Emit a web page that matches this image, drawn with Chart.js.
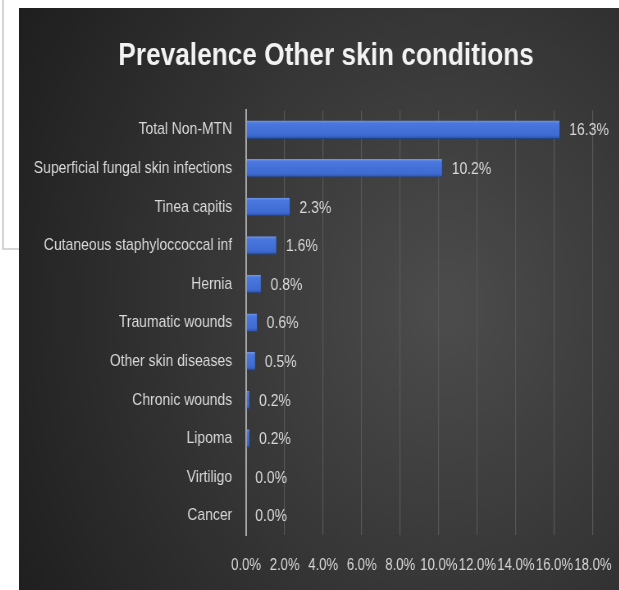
<!DOCTYPE html>
<html>
<head>
<meta charset="utf-8">
<script src="https://cdn.jsdelivr.net/npm/chart.js@4.4.0/dist/chart.umd.min.js"></script>
<style>
  html, body { margin: 0; padding: 0; background: #ffffff; }
  body { width: 619px; height: 590px; position: relative; overflow: hidden; }
  .side-box {
    position: absolute; left: 2px; top: 0; width: 30px; height: 250px;
    border-left: 2px solid #d6d6d6; border-bottom: 2px solid #d6d6d6; box-sizing: border-box;
  }
  .panel { position: absolute; left: 19px; top: 8px; width: 600px; height: 582px; overflow: hidden; }
  /* text in this chart is a narrow face, so the whole canvas is squeezed horizontally */
  .squeeze { width: 749px; height: 582px; transform: scaleX(0.82); transform-origin: 0 0; }
</style>
</head>
<body>
<div class="side-box"></div>
<div class="panel"><div class="squeeze"><canvas id="skinChart" width="749" height="582"></canvas></div></div>
<script>
// Categories, top to bottom
const conditions = [
    'Total Non-MTN',
    'Superficial fungal skin infections',
    'Tinea capitis',
    'Cutaneous staphyloccoccal inf',
    'Hernia',
    'Traumatic wounds',
    'Other skin diseases',
    'Chronic wounds',
    'Lipoma',
    'Virtiligo',
    'Cancer'
];

// Prevalence in percent
const prevalence = [16.3, 10.2, 2.3, 1.6, 0.8, 0.6, 0.5, 0.2, 0.2, 0.0, 0.0];

// X axis ticks (percent)
const xTicks = [0, 2, 4, 6, 8, 10, 12, 14, 16, 18];

const labelFont = "'Liberation Sans', Arial, sans-serif";
const textColor = '#d9d9d9';
const barFraction = 0.48;

// Dark radial backdrop behind everything
const backdrop = {
    id: 'backdrop',
    beforeDraw(chart) {
        const { ctx, width, height } = chart;
        const g = ctx.createRadialGradient(520, 300, 20, 520, 300, 620);
        g.addColorStop(0, '#4b4b4b');
        g.addColorStop(1, '#1d1d1d');
        ctx.save();
        ctx.fillStyle = g;
        ctx.fillRect(0, 0, width, height);
        ctx.restore();
    }
};

// Value labels to the right of each bar
const valueLabels = {
    id: 'valueLabels',
    afterDatasetsDraw(chart) {
        const { ctx } = chart;
        const meta = chart.getDatasetMeta(0);
        ctx.save();
        ctx.font = '17px ' + labelFont;
        ctx.fillStyle = textColor;
        ctx.textAlign = 'left';
        ctx.textBaseline = 'middle';
        meta.data.forEach((bar, i) => {
            ctx.fillText(prevalence[i].toFixed(1) + '%', bar.x + 11, bar.y + 1);
        });
        ctx.restore();
    }
};

// Glossy blue fill: light top edge, darker bottom edge
function barFill(context) {
    const chart = context.chart;
    const area = chart.chartArea;
    const yScale = chart.scales && chart.scales.y;
    if (!area || !yScale || context.dataIndex === undefined) return '#4271d6';
    const cy = yScale.getPixelForValue(context.dataIndex);
    const half = (area.bottom - area.top) / conditions.length * barFraction / 2;
    if (!isFinite(cy) || !isFinite(half)) return '#4271d6';
    const g = chart.ctx.createLinearGradient(0, cy - half, 0, cy + half);
    g.addColorStop(0, '#7098ea');
    g.addColorStop(0.15, '#4a78de');
    g.addColorStop(0.8, '#3e6bd2');
    g.addColorStop(1, '#2a4f9e');
    return g;
}

const ctx = document.getElementById('skinChart').getContext('2d');
new Chart(ctx, {
    type: 'bar',
    data: {
        labels: conditions,
        datasets: [{
            data: prevalence,
            backgroundColor: barFill,
            borderColor: '#24447f',
            borderWidth: { bottom: 1, right: 1, top: 0, left: 0 },
            borderSkipped: 'start',
            barPercentage: barFraction,
            categoryPercentage: 1
        }]
    },
    options: {
        indexAxis: 'y',
        responsive: false,
        animation: false,
        layout: { padding: 0 },
        plugins: {
            legend: { display: false },
            tooltip: { enabled: false },
            title: {
                display: true,
                text: 'Prevalence Other skin conditions',
                color: '#f2f2f2',
                font: { family: labelFont, size: 32, weight: 'bold' },
                padding: { top: 29, bottom: 35 }
            }
        },
        scales: {
            x: {
                min: 0,
                max: 18,
                afterBuildTicks(scale) {
                    scale.ticks = xTicks.map(v => ({ value: v }));
                },
                afterFit(scale) { scale.height = 55; },
                ticks: {
                    color: textColor,
                    font: { family: labelFont, size: 16 },
                    padding: 21,
                    maxRotation: 0,
                    autoSkip: false,
                    callback: v => v.toFixed(1) + '%'
                },
                grid: { color: '#585858', lineWidth: 1.2, drawTicks: false },
                border: { display: false }
            },
            y: {
                afterFit(scale) { scale.width = 277; },
                ticks: {
                    color: textColor,
                    font: { family: labelFont, size: 17 },
                    padding: 17
                },
                grid: { display: false, drawTicks: false },
                border: { display: true, color: '#a6a6a6', width: 2 }
            },
            // empty strip on the right, leaves room after the last tick label
            yRight: {
                type: 'category',
                position: 'right',
                afterFit(scale) { scale.width = 49; },
                ticks: { display: false },
                grid: { display: false, drawTicks: false },
                border: { display: false }
            }
        }
    },
    plugins: [backdrop, valueLabels]
});
</script>
</body>
</html>
